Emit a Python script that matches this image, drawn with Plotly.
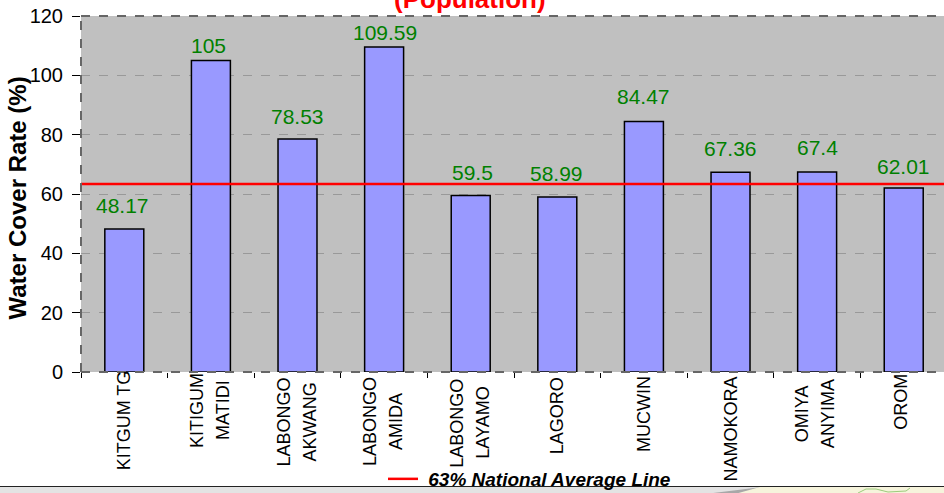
import plotly.graph_objects as go

categories = ["KITGUM TG", "KITIGUM<br>MATIDI", "LABONGO<br>AKWANG", "LABONGO<br>AMIDA",
              "LABONGO<br>LAYAMO", "LAGORO", "MUCWIN", "NAMOKORA", "OMIYA<br>ANYIMA", "OROM"]
values = [48.17, 105, 78.53, 109.59, 59.5, 58.99, 84.47, 67.36, 67.4, 62.01]
value_labels = ["48.17", "105", "78.53", "109.59", "59.5", "58.99", "84.47", "67.36", "67.4", "62.01"]
average_x = [-0.5, 9.5]
average_y = [63.4, 63.4]
y_ticks = [0, 20, 40, 60, 80, 100, 120]

# layout tuning, kept apart from the data
label_lift = [24, 15, 23, 14, 23, 24, 25, 24, 25, 22]
label_nudge = [-2, -2, 0, 1, 2, -1, 0, 0, 0, 0]
label_mid_px = [420, 410, 422, 422, 423, 416, 414, 429, 414, 402]
label_x_nudge = [0, 0, 0, 0, 0, 0, 0, 0, -1, -3]

W, H = 944, 493
L, T, B = 81, 16, 372
FONT = "Liberation Sans"
positions = list(range(len(categories)))
boundaries = [p - 0.5 for p in positions] + [9.5]


def py(y):
    return (B - y) / (B - T)


def px(x):
    return (x - L) / (W - L)


fig = go.Figure()
fig.add_trace(go.Bar(
    x=positions, y=values, width=0.45,
    marker=dict(color="#9999FF", line=dict(color="black", width=1.5)),
    showlegend=False, hoverinfo="skip",
))
fig.add_trace(go.Scatter(
    x=average_x, y=average_y, mode="lines", name="\u00a063% National Average Line",
    line=dict(color="#FF0000", width=2.5), hoverinfo="skip",
))

annotations = []
for p, v, t, lift, nudge in zip(positions, values, value_labels, label_lift, label_nudge):
    annotations.append(dict(
        x=p, xref="x", y=v, yref="y", text=t, showarrow=False, yshift=lift, xshift=nudge,
        xanchor="center", yanchor="middle",
        font=dict(size=21, color="#008000", family=FONT),
    ))
for p, c, mid, nudge in zip(positions, categories, label_mid_px, label_x_nudge):
    lines = c.split("<br>")
    offs = [-14, 12] if len(lines) == 2 else [0]
    for line, off in zip(lines, offs):
        annotations.append(dict(
            x=p, xref="x", xshift=off + nudge, y=py(mid), yref="paper", text=line, textangle=-90,
            showarrow=False, xanchor="center", yanchor="middle",
            font=dict(size=18, color="black", family=FONT),
        ))
annotations.append(dict(
    x=px(469.5), xref="paper", y=py(-1), yref="paper", text="<b>(Population)</b>",
    showarrow=False, xanchor="center", yanchor="middle",
    font=dict(size=26, color="#FF0000", family=FONT),
))
annotations.append(dict(
    x=px(17), xref="paper", y=py(198.5), yref="paper", text="<b>Water Cover Rate (%)</b>",
    textangle=-90, showarrow=False, xanchor="center", yanchor="middle",
    font=dict(size=24, color="black", family=FONT),
))

border = dict(color="#666666", width=2, dash="dash")
shapes = [
    dict(type="rect", xref="paper", yref="paper", x0=-1, x1=1.1, y0=py(494), y1=py(487),
         fillcolor="#E3E3E3", line=dict(width=0)),
    dict(type="path", xref="paper", yref="paper",
         path=f"M {px(705)} {py(494)} L {px(762)} {py(487)} L {px(780)} {py(487)} L {px(740)} {py(494)} Z",
         fillcolor="#A8A8A8", line=dict(width=0)),
    dict(type="path", xref="paper", yref="paper",
         path=f"M {px(735)} {py(494)} L {px(760)} {py(487)} L {px(950)} {py(487)} L {px(950)} {py(494)} Z",
         fillcolor="#F6F4DC", line=dict(width=0)),
    dict(type="path", xref="paper", yref="paper",
         path=f"M {px(858)} {py(493)} L {px(866)} {py(489)} L {px(876)} {py(489)} L {px(888)} {py(492)} "
              f"L {px(906)} {py(491)} L {px(910)} {py(488)}",
         line=dict(color="#9CCB7C", width=1)),
    dict(type="line", xref="paper", yref="paper", x0=-1, x1=1.1, y0=py(486.5), y1=py(486.5),
         line=dict(color="#222222", width=1)),
    dict(type="line", xref="paper", yref="paper", x0=0, x1=0, y0=0, y1=1, line=border),
    dict(type="line", xref="paper", yref="paper", x0=0, x1=1, y0=1, y1=1, line=border),
    dict(type="line", xref="paper", yref="paper", x0=0, x1=1, y0=0, y1=0, line=border),
]

fig.update_layout(
    width=W, height=H, autosize=False,
    margin=dict(l=L, r=0, t=T, b=H - B, pad=0, autoexpand=False),
    paper_bgcolor="white", plot_bgcolor="#C0C0C0",
    font=dict(family=FONT, color="black"),
    annotations=annotations, shapes=shapes,
    legend=dict(
        xref="container", yref="container",
        x=383 / W, y=1 - 479 / H, xanchor="left", yanchor="middle",
        orientation="h", bgcolor="rgba(0,0,0,0)",
        font=dict(size=19, family=FONT, weight="bold", style="italic", color="black"),
        itemwidth=30,
    ),
    xaxis=dict(
        range=[-0.5, 9.465], tickmode="array", tickvals=positions, ticktext=[""] * 10,
        ticks="", showgrid=False, zeroline=False, showline=False,
        minor=dict(tickmode="array", tickvals=boundaries, ticks="outside", ticklen=5,
                   tickcolor="black", tickwidth=1, showgrid=False),
    ),
    yaxis=dict(
        range=[0, 120], tickmode="array", tickvals=y_ticks, ticks="outside", ticklen=8,
        tickcolor="black", tickwidth=1, ticklabelstandoff=5,
        tickfont=dict(size=20, color="black", family=FONT),
        showgrid=True, gridcolor="#999999", griddash="dash", gridwidth=1,
        zeroline=False, showline=False,
    ),
)
fig.write_html("out.html", config=dict(displayModeBar=False),
               post_script="document.body.style.margin='0';")
